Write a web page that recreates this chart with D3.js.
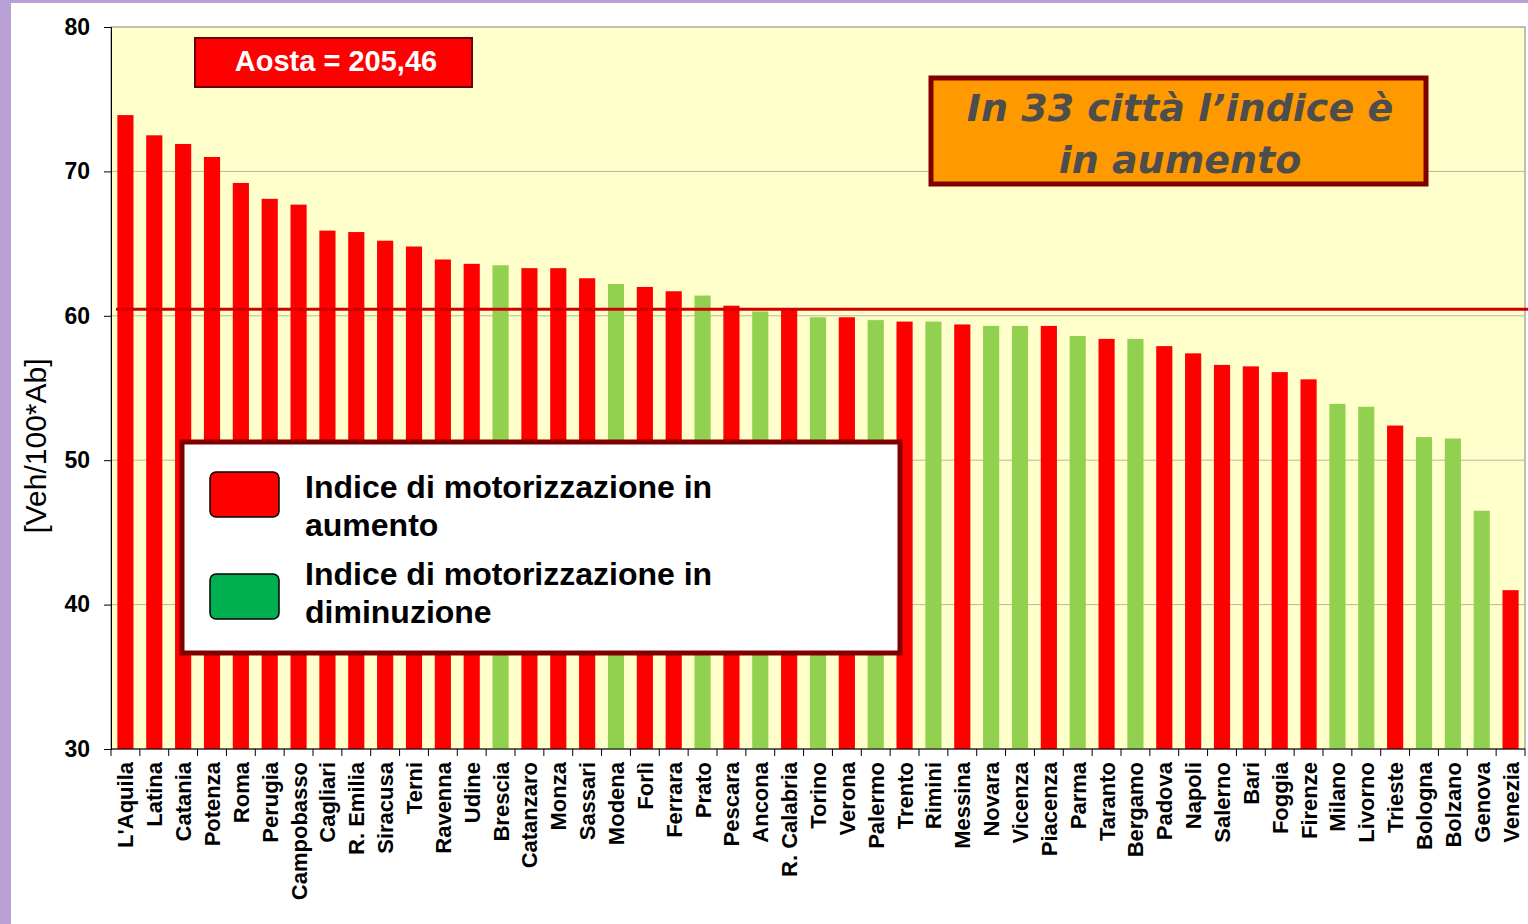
<!DOCTYPE html>
<html>
<head>
<meta charset="utf-8">
<script src="https://cdn.jsdelivr.net/npm/d3@7"></script>
<style>
  html, body { margin: 0; padding: 0; background: #fff; }
  svg { display: block; }
</style>
</head>
<body>
<div id="chart"></div>
<script>
// cities, sorted as in the original slide
var cities = ["L'Aquila", "Latina", "Catania", "Potenza", "Roma", "Perugia", "Campobasso", "Cagliari",
  "R. Emilia", "Siracusa", "Terni", "Ravenna", "Udine", "Brescia", "Catanzaro", "Monza", "Sassari",
  "Modena", "Forlì", "Ferrara", "Prato", "Pescara", "Ancona", "R. Calabria", "Torino", "Verona",
  "Palermo", "Trento", "Rimini", "Messina", "Novara", "Vicenza", "Piacenza", "Parma", "Taranto",
  "Bergamo", "Padova", "Napoli", "Salerno", "Bari", "Foggia", "Firenze", "Milano", "Livorno",
  "Trieste", "Bologna", "Bolzano", "Genova", "Venezia"];

// vehicles per 100 inhabitants
var values = [73.9, 72.5, 71.9, 71.0, 69.2, 68.1, 67.7, 65.9,
  65.8, 65.2, 64.8, 63.9, 63.6, 63.5, 63.3, 63.3, 62.6,
  62.2, 62.0, 61.7, 61.4, 60.7, 60.3, 60.4, 59.9, 59.9,
  59.7, 59.6, 59.6, 59.4, 59.3, 59.3, 59.3, 58.6, 58.4,
  58.4, 57.9, 57.4, 56.6, 56.5, 56.1, 55.6, 53.9, 53.7,
  52.4, 51.6, 51.5, 46.5, 41.0];

// 1 = index increasing, 0 = decreasing
var trend = [1, 1, 1, 1, 1, 1, 1, 1,
  1, 1, 1, 1, 1, 0, 1, 1, 1,
  0, 1, 1, 0, 1, 0, 1, 0, 1,
  0, 1, 0, 1, 0, 0, 1, 0, 1,
  0, 1, 1, 1, 1, 1, 1, 0, 0,
  1, 0, 0, 0, 1];

var yTicks = [30, 40, 50, 60, 70, 80];
var average = 60.45;
var legendLabels = [["Indice di motorizzazione in", "aumento"], ["Indice di motorizzazione in", "diminuzione"]];

var W = 1528, H = 924;
var plotL = 111, plotR = 1525, plotT = 27, plotB = 749;
var font = "'Liberation Sans', Arial, sans-serif";

var svg = d3.select("#chart").append("svg")
  .attr("width", W).attr("height", H);

// purple slide frame
svg.append("rect").attr("x", 0).attr("y", 0).attr("width", W).attr("height", 3).attr("fill", "#b9a1d5");
svg.append("rect").attr("x", 0).attr("y", 0).attr("width", 11).attr("height", H).attr("fill", "#b9a1d5");

var x = d3.scaleBand().domain(cities).range([plotL, plotR]).paddingInner(0.44).paddingOuter(0.22);
var y = d3.scaleLinear().domain([30, 80]).range([plotB, plotT]);

// plot background
svg.append("rect")
  .attr("x", plotL).attr("y", plotT)
  .attr("width", plotR - plotL).attr("height", plotB - plotT)
  .attr("fill", "#ffffcc").attr("stroke", "#808080").attr("stroke-width", 1);

// grid
svg.append("g").selectAll("line")
  .data(yTicks.filter(function (d) { return d > 30 && d < 80; }))
  .join("line")
  .attr("x1", plotL).attr("x2", plotR)
  .attr("y1", function (d) { return y(d); }).attr("y2", function (d) { return y(d); })
  .attr("stroke", "#b8b8a0").attr("stroke-width", 1);

// bars
svg.append("g").selectAll("rect")
  .data(cities)
  .join("rect")
  .attr("x", function (d) { return x(d); })
  .attr("y", function (d, i) { return y(values[i]); })
  .attr("width", x.bandwidth())
  .attr("height", function (d, i) { return plotB - y(values[i]); })
  .attr("fill", function (d, i) { return trend[i] ? "#ff0000" : "#92d050"; });

// average line
svg.append("line")
  .attr("x1", plotL + 5).attr("x2", W)
  .attr("y1", y(average)).attr("y2", y(average))
  .attr("stroke", "#d00000").attr("stroke-width", 3);

// y axis
var yAxis = svg.append("g")
  .attr("transform", "translate(" + plotL + ",0)")
  .call(d3.axisLeft(y).tickValues(yTicks).tickSize(7).tickPadding(14));
yAxis.select(".domain").attr("stroke", "#000");
yAxis.selectAll("text")
  .attr("font-family", font)
  .attr("font-size", 23).attr("font-weight", "bold").attr("fill", "#000");

// x axis
var xAxis = svg.append("g").attr("transform", "translate(0," + plotB + ")");
xAxis.append("line").attr("x1", plotL).attr("x2", plotR).attr("stroke", "#000");
xAxis.selectAll("line.tick")
  .data(cities.concat(["_end"]))
  .join("line").attr("class", "tick")
  .attr("x1", function (d, i) { return plotL + i * x.step(); })
  .attr("x2", function (d, i) { return plotL + i * x.step(); })
  .attr("y1", 0).attr("y2", 7)
  .attr("stroke", "#000");
xAxis.selectAll("text")
  .data(cities)
  .join("text")
  .attr("transform", function (d) {
    return "translate(" + (x(d) + x.bandwidth() / 2 + 8) + ",13) rotate(-90)";
  })
  .attr("text-anchor", "end")
  .attr("font-family", font)
  .attr("font-size", 22).attr("font-weight", "bold")
  .text(function (d) { return d; });

// y label
svg.append("text")
  .attr("transform", "translate(46,446) rotate(-90)")
  .attr("text-anchor", "middle")
  .attr("font-family", font)
  .attr("font-size", 30)
  .text("[Veh/100*Ab]");

// Aosta note
svg.append("rect")
  .attr("x", 195).attr("y", 38).attr("width", 277).attr("height", 49)
  .attr("fill", "#ff0000").attr("stroke", "#6b0000").attr("stroke-width", 2);
svg.append("text")
  .attr("x", 336).attr("y", 71)
  .attr("text-anchor", "middle")
  .attr("font-family", font)
  .attr("font-size", 29).attr("font-weight", "bold").attr("fill", "#fff")
  .text("Aosta = 205,46");

// orange note
svg.append("rect")
  .attr("x", 931).attr("y", 78).attr("width", 495).attr("height", 106)
  .attr("fill", "#ff9900").attr("stroke", "#800000").attr("stroke-width", 5);
svg.append("text")
  .attr("text-anchor", "middle")
  .attr("font-family", "'DejaVu Sans', Verdana, sans-serif")
  .attr("font-size", 38).attr("font-weight", "bold").attr("font-style", "italic")
  .attr("fill", "#4d4d4d")
  .selectAll("tspan")
  .data(["In 33 città l\u2019indice è", "in aumento"])
  .join("tspan")
  .attr("x", 1180)
  .attr("y", function (d, i) { return 121 + i * 52; })
  .text(function (d) { return d; });

// legend
var legend = svg.append("g");
legend.append("rect")
  .attr("x", 182).attr("y", 442).attr("width", 718).attr("height", 211)
  .attr("fill", "#fff").attr("stroke", "#800000").attr("stroke-width", 5);
var item = legend.selectAll("g.item")
  .data(legendLabels)
  .join("g").attr("class", "item");
item.append("rect")
  .attr("x", 210).attr("y", function (d, i) { return 472 + i * 102; })
  .attr("width", 69).attr("height", 45)
  .attr("rx", 6)
  .attr("fill", function (d, i) { return i === 0 ? "#ff0000" : "#00b050"; })
  .attr("stroke", "#000").attr("stroke-width", 1.5);
item.append("text")
  .attr("font-family", font)
  .attr("font-size", 32).attr("font-weight", "bold")
  .attr("transform", function (d, i) { return "translate(0," + (i * 87) + ")"; })
  .selectAll("tspan")
  .data(function (d) { return d; })
  .join("tspan")
  .attr("x", 305)
  .attr("y", function (d, i) { return 498 + i * 38; })
  .text(function (d) { return d; });
</script>
</body>
</html>
